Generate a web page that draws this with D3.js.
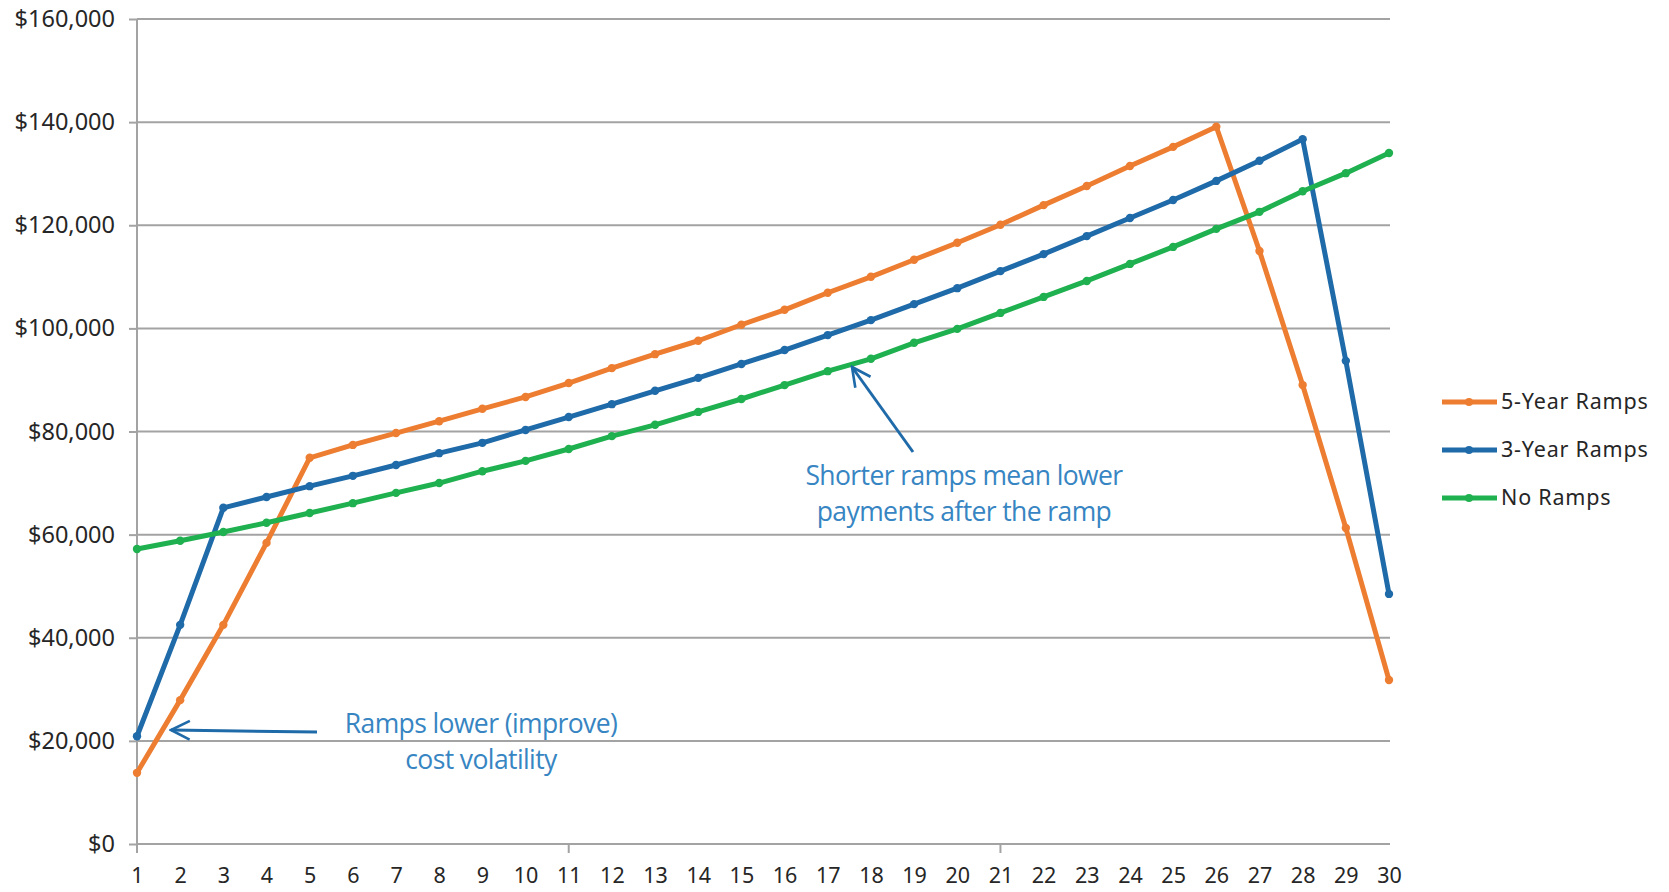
<!DOCTYPE html>
<html>
<head>
<meta charset="utf-8">
<script src="https://cdn.jsdelivr.net/npm/d3@7"></script>
<style>
  body { margin: 0; background: white; }
  text { font-family: "Noto Sans", sans-serif; }
</style>
</head>
<body>
<div id="chart"></div>
<script>
// Chart size
const width = 1669;
const height = 892;

// Data
const years = d3.range(1, 31);
const fiveYear = [13.8, 27.9, 42.5, 58.4, 74.9, 77.4, 79.7, 82.0, 84.4, 86.7,
  89.4, 92.3, 95.0, 97.6, 100.7, 103.6, 106.9, 110.0, 113.3, 116.6,
  120.1, 123.9, 127.6, 131.5, 135.2, 139.1, 115.0, 89.0, 61.3, 31.8];
const threeYear = [20.9, 42.5, 65.2, 67.3, 69.4, 71.4, 73.5, 75.8, 77.8, 80.3,
  82.8, 85.3, 87.9, 90.4, 93.1, 95.8, 98.7, 101.6, 104.7, 107.8,
  111.1, 114.4, 117.9, 121.4, 124.9, 128.6, 132.5, 136.7, 93.7, 48.5];
const noRamps = [57.2, 58.8, 60.5, 62.3, 64.2, 66.1, 68.1, 70.0, 72.3, 74.3,
  76.6, 79.1, 81.3, 83.8, 86.3, 89.0, 91.7, 94.1, 97.2, 99.9,
  103.0, 106.1, 109.2, 112.5, 115.8, 119.3, 122.6, 126.6, 130.1, 134.0];
const seriesNames = ["5-Year Ramps", "3-Year Ramps", "No Ramps"];
const seriesColors = ["#ed7d31", "#1f6aa8", "#1fb04f"];
const yTicks = [0, 20000, 40000, 60000, 80000, 100000, 120000, 140000, 160000];

const series = [fiveYear, threeYear, noRamps].map((vals, i) => ({
  name: seriesNames[i],
  color: seriesColors[i],
  values: vals.map((v, j) => ({ year: years[j], value: v * 1000 }))
}));

const svg = d3.select("#chart").append("svg")
  .attr("width", width).attr("height", height);

const x = d3.scalePoint().domain(years).range([137, 1389]);
const y = d3.scaleLinear().domain([0, 160000]).range([844, 19]);

const gridColor = "#a3a3a3";

// y axis with gridlines
const yAxis = svg.append("g")
  .attr("transform", "translate(137,0)")
  .call(d3.axisLeft(y).tickValues(yTicks).tickSize(8).tickPadding(14)
    .tickFormat(d => "$" + d3.format(",")(d)));
yAxis.select(".domain").remove();
yAxis.selectAll(".tick line").attr("stroke", gridColor).attr("stroke-width", 2);
yAxis.selectAll(".tick text")
  .attr("font-size", 23.5).attr("fill", "#262626")
  .style("font-family", "'Noto Sans', sans-serif");

svg.append("g").selectAll("line")
  .data(yTicks)
  .enter().append("line")
  .attr("x1", 137).attr("x2", 1390)
  .attr("y1", d => y(d)).attr("y2", d => y(d))
  .attr("stroke", gridColor).attr("stroke-width", 2);

svg.append("line")
  .attr("x1", 137).attr("x2", 137).attr("y1", 19).attr("y2", 853)
  .attr("stroke", gridColor).attr("stroke-width", 2);

// x axis
const xAxis = svg.append("g")
  .attr("transform", "translate(0,844)")
  .call(d3.axisBottom(x).tickSize(0).tickPadding(24));
xAxis.select(".domain").remove();
xAxis.selectAll(".tick text")
  .attr("font-size", 21.5).attr("fill", "#262626")
  .style("font-family", "'Noto Sans', sans-serif");

svg.append("g").selectAll("line")
  .data([11, 21])
  .enter().append("line")
  .attr("x1", d => x(d)).attr("x2", d => x(d))
  .attr("y1", 844).attr("y2", 853)
  .attr("stroke", gridColor).attr("stroke-width", 2);

// lines + markers
const line = d3.line().x(d => x(d.year)).y(d => y(d.value));

series.forEach(s => {
  svg.append("path")
    .datum(s.values)
    .attr("d", line)
    .attr("fill", "none")
    .attr("stroke", s.color)
    .attr("stroke-width", 5)
    .attr("stroke-linejoin", "round");
  svg.append("g").selectAll("circle")
    .data(s.values)
    .enter().append("circle")
    .attr("cx", d => x(d.year)).attr("cy", d => y(d.value))
    .attr("r", 4.2)
    .attr("fill", s.color);
});

// legend
const legend = svg.append("g");
series.forEach((s, i) => {
  const ly = 402 + i * 48;
  legend.append("line")
    .attr("x1", 1442).attr("x2", 1497).attr("y1", ly).attr("y2", ly)
    .attr("stroke", s.color).attr("stroke-width", 5);
  legend.append("circle").attr("cx", 1469).attr("cy", ly).attr("r", 4).attr("fill", s.color);
  legend.append("text")
    .attr("x", 1501).attr("y", ly + 7)
    .attr("font-size", 21.5).attr("fill", "#262626")
    .attr("letter-spacing", 0.8)
    .text(s.name);
});

// annotations
const noteColor = "#3785c2";
const arrowColor = "#1f6aa8";

svg.append("defs").append("marker")
  .attr("id", "arrowhead")
  .attr("viewBox", "0 0 12 12")
  .attr("refX", 11).attr("refY", 6)
  .attr("markerWidth", 7.5).attr("markerHeight", 7.5)
  .attr("markerUnits", "strokeWidth")
  .attr("orient", "auto")
  .append("path")
  .attr("d", "M1,1 L11,6 L1,11")
  .attr("fill", "none")
  .attr("stroke", arrowColor)
  .attr("stroke-width", 1.4)
  .attr("stroke-linejoin", "miter");

svg.append("line")
  .attr("x1", 317).attr("y1", 732).attr("x2", 171).attr("y2", 730)
  .attr("stroke", arrowColor).attr("stroke-width", 3)
  .attr("marker-end", "url(#arrowhead)");

svg.append("line")
  .attr("x1", 913).attr("y1", 452).attr("x2", 852).attr("y2", 367)
  .attr("stroke", arrowColor).attr("stroke-width", 3)
  .attr("marker-end", "url(#arrowhead)");

const notes = [
  { x: 481, y: 733, text: "Ramps lower (improve)" },
  { x: 481, y: 769, text: "cost volatility" },
  { x: 964, y: 485, text: "Shorter ramps mean lower" },
  { x: 964, y: 521, text: "payments after the ramp" }
];
svg.append("g").selectAll("text")
  .data(notes)
  .enter().append("text")
  .attr("x", d => d.x).attr("y", d => d.y)
  .attr("text-anchor", "middle")
  .attr("font-size", 26.5)
  .attr("fill", noteColor)
  .style("font-family", "'Open Sans', sans-serif")
  .attr("letter-spacing", -0.6)
  .text(d => d.text);
</script>
</body>
</html>
